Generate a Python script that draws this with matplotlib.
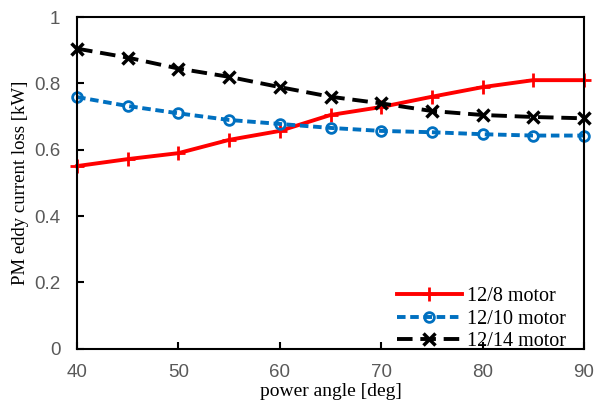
import matplotlib
matplotlib.use('Agg')
import matplotlib.pyplot as plt

angle = [40, 45, 50, 55, 60, 65, 70, 75, 80, 85, 90]
loss_12_8 = [0.551, 0.572, 0.590, 0.630, 0.657, 0.705, 0.729, 0.760, 0.789, 0.810, 0.810]
loss_12_10 = [0.759, 0.732, 0.710, 0.690, 0.678, 0.666, 0.657, 0.653, 0.647, 0.643, 0.643]
loss_12_14 = [0.905, 0.878, 0.845, 0.820, 0.789, 0.760, 0.740, 0.717, 0.705, 0.699, 0.695]

serif = 'Liberation Serif'
sans = 'Liberation Sans'

fig = plt.figure(figsize=(6.07, 4.08), dpi=100)
ax = fig.add_axes([0.127, 0.145, 0.835, 0.813])

ax.plot(angle, loss_12_8, color='#FF0000', lw=2.8, marker='+', ms=10, mew=2,
        label='12/8 motor', clip_on=False)
ax.plot(angle, loss_12_10, color='#0070C0', lw=2.8, ls=(0, (2.2, 1.2)), marker='o',
        ms=7, mew=2, mfc='none', label='12/10 motor', clip_on=False)
ax.plot(angle, loss_12_14, color='black', lw=2.8, ls=(0, (4, 2)), marker='x',
        ms=8, mew=2.5, label='12/14 motor', clip_on=False)

ax.set_xlim(40, 90)
ax.set_ylim(0, 1)
ax.set_xticks([40, 50, 60, 70, 80, 90])
ax.set_yticks([0, 0.2, 0.4, 0.6, 0.8, 1])
ax.set_yticklabels(['0', '0.2', '0.4', '0.6', '0.8', '1'])
ax.tick_params(direction='in', length=5, width=1.5, labelsize=13.5,
               labelcolor='#595959')
ax.tick_params(axis='x', pad=11)
ax.tick_params(axis='y', pad=12)
for lab in ax.get_xticklabels() + ax.get_yticklabels():
    lab.set_family(sans)
for s in ax.spines.values():
    s.set_linewidth(1.5)

ax.set_xlabel('power angle [deg]', fontsize=14, family=serif, labelpad=1)
ax.set_ylabel('PM eddy current loss [kW]', fontsize=13.5, family=serif, labelpad=4)

ax.legend(loc='lower right', frameon=False, prop={'family': serif, 'size': 14.5},
          handlelength=3.2, handletextpad=0.25, labelspacing=0.15,
          borderaxespad=0.0, bbox_to_anchor=(0.98, -0.03))

fig.savefig('out.png', dpi=100)
